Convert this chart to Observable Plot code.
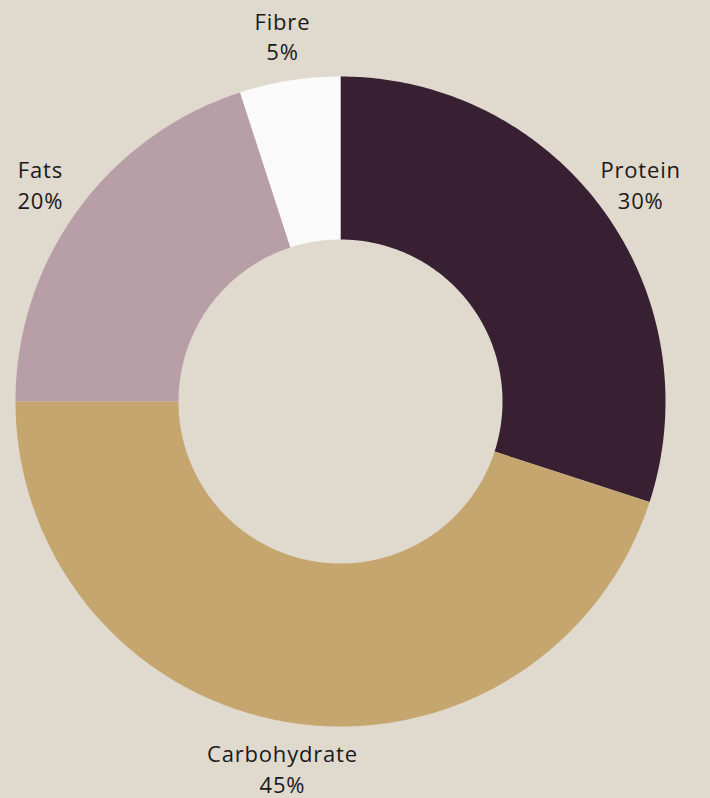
<!DOCTYPE html>
<html>
<head>
<meta charset="utf-8">
<script src="https://cdn.jsdelivr.net/npm/d3@7"></script>
<script src="https://cdn.jsdelivr.net/npm/@observablehq/plot@0.6"></script>
<style>
  html, body { margin: 0; padding: 0; background: #e0d9cd; }
  #chart svg { display: block; }
  #chart svg text { letter-spacing: 0.8px; }
</style>
</head>
<body>
<div id="chart"></div>
<script>
const categories = ["Protein", "Carbohydrate", "Fats", "Fibre"];
const values = [30, 45, 20, 5];
const colors = ["#381f31", "#c6a66f", "#b89ea6", "#fafafa"];

const outerR = 325, innerR = 162, labelR = 371;

const pie = d3.pie().sort(null).value(d => d.value)(
  categories.map((c, i) => ({name: c, value: values[i], color: colors[i]}))
);

// polygon vertices for each slice (angles clockwise from top)
const pts = [];
for (const a of pie) {
  const n = Math.max(8, Math.ceil((a.endAngle - a.startAngle) / 0.01));
  for (let k = 0; k <= n; k++) {
    const t = a.startAngle + (a.endAngle - a.startAngle) * k / n;
    pts.push({name: a.data.name, color: a.data.color, x: outerR * Math.sin(t), y: outerR * Math.cos(t)});
  }
  for (let k = n; k >= 0; k--) {
    const t = a.startAngle + (a.endAngle - a.startAngle) * k / n;
    pts.push({name: a.data.name, color: a.data.color, x: innerR * Math.sin(t), y: innerR * Math.cos(t)});
  }
}

const labels = pie.map(a => {
  const m = (a.startAngle + a.endAngle) / 2;
  return {x: labelR * Math.sin(m), y: labelR * Math.cos(m), text: `${a.data.name}\n${a.data.value}%`};
});

const chart = Plot.plot({
  width: 710,
  height: 798,
  margin: 0,
  style: {background: "#e0d9cd", fontFamily: "'Open Sans', sans-serif"},
  x: {domain: [-340, 370], axis: null},
  y: {domain: [-397, 401], axis: null},
  marks: [
    Plot.line(pts, {x: "x", y: "y", z: "name", fill: "color", stroke: "none", curve: "linear-closed"}),
    Plot.text(labels, {x: "x", y: "y", text: "text", fontSize: 22, fontWeight: 400, lineHeight: 1.4, fill: "#1a1a1a", textAnchor: "middle"})
  ]
});
document.getElementById("chart").appendChild(chart);
</script>
</body>
</html>
